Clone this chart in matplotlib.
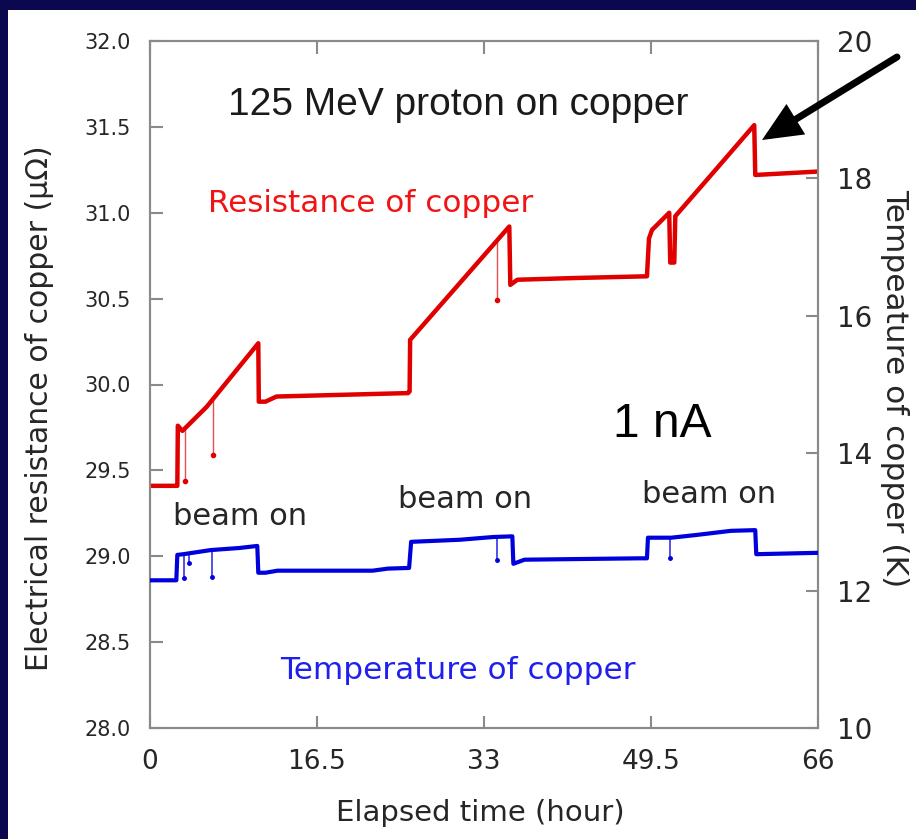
import matplotlib
matplotlib.use("Agg")
import matplotlib.pyplot as plt
from matplotlib.patches import FancyArrowPatch, Rectangle

# Resistance of copper (micro-ohm) against elapsed time (hour)
red_t = [0.0, 2.6, 2.7, 2.75, 3.2, 5.6, 10.7, 10.75, 11.4, 12.5, 25.5, 25.65,
         25.7, 35.5, 35.6, 36.3, 42.0, 49.1, 49.3, 49.6, 51.3, 51.4, 51.8,
         51.9, 55.0, 59.7, 59.8, 66.0]
red_r = [29.41, 29.41, 29.41, 29.76, 29.73, 29.87, 30.24, 29.90, 29.90, 29.93,
         29.95, 29.96, 30.26, 30.92, 30.58, 30.61, 30.62, 30.63, 30.85, 30.90,
         31.00, 30.71, 30.71, 30.98, 31.19, 31.51, 31.22, 31.24]

# short dropouts in the resistance readout
red_spike_t = [3.5, 6.2, 34.3]
red_spike_top = [29.74, 29.91, 30.84]
red_spike_low = [29.44, 29.59, 30.49]

# Temperature of copper (K)
blue_t = [0.0, 2.6, 2.7, 3.3, 6.0, 8.8, 10.6, 10.7, 11.4, 12.6, 22.0, 23.5,
          25.6, 25.8, 30.6, 33.9, 35.8, 35.9, 37.0, 48.4, 49.1, 49.2, 51.5,
          54.0, 57.4, 59.8, 59.9, 66.0]
blue_T = [12.15, 12.15, 12.52, 12.53, 12.59, 12.62, 12.65, 12.26, 12.26, 12.29,
          12.29, 12.32, 12.33, 12.71, 12.74, 12.78, 12.79, 12.39, 12.45, 12.47,
          12.47, 12.77, 12.77, 12.81, 12.87, 12.88, 12.53, 12.55]

blue_spike_t = [3.4, 3.9, 6.1, 34.3, 51.4]
blue_spike_top = [12.52, 12.53, 12.57, 12.78, 12.77]
blue_spike_low = [12.18, 12.40, 12.20, 12.45, 12.47]

x_ticks = [0, 16.5, 33, 49.5, 66]
x_ticklabels = ["0", "16.5", "33", "49.5", "66"]
r_ticks = [28.0, 28.5, 29.0, 29.5, 30.0, 30.5, 31.0, 31.5, 32.0]
t_ticks = [10, 12, 14, 16, 18, 20]

RED = "#e00000"
BLUE = "#0000dc"
GRAY = "#8a8a8a"
INK = "#262626"
NAVY = "#0b0850"

plt.rcParams["font.family"] = "DejaVu Sans"

W, H = 916, 839
fig = plt.figure(figsize=(W / 100, H / 100), dpi=100)
fig.patch.set_facecolor("white")

# axes box in pixels: x 150..818, y 41..728
ax = fig.add_axes([150 / W, 1 - 728 / H, 668 / W, 687 / H])
ax2 = ax.twinx()

ax.plot(red_t, red_r, color=RED, lw=3.2, solid_joinstyle="round", zorder=3)
ax.vlines(red_spike_t, red_spike_low, red_spike_top, color=RED, lw=1.0,
          alpha=0.7, zorder=3)
ax.plot(red_spike_t, red_spike_low, "o", color=RED, ms=3, zorder=3)

ax2.plot(blue_t, blue_T, color=BLUE, lw=3.0, solid_joinstyle="round", zorder=3)
ax2.vlines(blue_spike_t, blue_spike_low, blue_spike_top, color=BLUE, lw=1.2,
           alpha=0.8, zorder=3)
ax2.plot(blue_spike_t, blue_spike_low, "o", color=BLUE, ms=2.5, zorder=3)

ax.set_xlim(0, 66)
ax.set_ylim(28.0, 32.0)
ax2.set_ylim(10, 20)

ax.set_xticks(x_ticks)
ax.set_xticklabels(x_ticklabels)
ax.set_yticks(r_ticks)
ax.set_yticklabels([f"{v:.1f}" for v in r_ticks])
ax2.set_yticks(t_ticks)
ax2.set_yticklabels([str(v) for v in t_ticks])

for a in (ax, ax2):
    for s in a.spines.values():
        s.set_color(GRAY)
        s.set_linewidth(1.5)

ax.tick_params(axis="x", direction="in", length=9, width=1.5, color=GRAY,
               top=True, labelsize=19, pad=15, labelcolor=INK)
ax.tick_params(axis="y", direction="in", length=9, width=1.5, color=GRAY,
               right=False, labelsize=15, pad=14, labelcolor=INK)
ax2.tick_params(axis="y", direction="in", length=9, width=1.5, color=GRAY,
                labelsize=20, pad=14, labelcolor=INK)

# axis titles
fig.text(40 / W, 1 - 408 / H, "Electrical resistance of copper (μΩ)",
         rotation=90, ha="center", va="center", fontsize=21.5, color=INK)
fig.text(895 / W, 1 - 388 / H, "Tempeature of copper (K)",
         rotation=270, ha="center", va="center", fontsize=22.5, color=INK)
fig.text(480 / W, 1 - 821 / H, "Elapsed time (hour)",
         ha="center", va="baseline", fontsize=21, color=INK)

# in-plot labels
ax.text(7.71, 31.569, "125 MeV proton on copper", family="Liberation Sans",
        fontsize=28, color="#1a1a1a", va="baseline")
ax.text(5.73, 31.004, "Resistance of copper", fontsize=22.4,
        color="#f01414", va="baseline")
ax.text(12.85, 28.285, "Temperature of copper", fontsize=22.4,
        color="#2020ee", va="baseline")
for bx, by in [(2.27, 29.18), (24.5, 29.28), (48.6, 29.31)]:
    ax.text(bx, by, "beam on", fontsize=22, color=INK, va="baseline")
ax.text(45.75, 29.694, "1 nA", family="Liberation Sans", fontsize=34.5,
        color="black", va="baseline")

# arrow pointing at the last drop
fig.add_artist(FancyArrowPatch(
    (897 / W, 1 - 57 / H), (762 / W, 1 - 140 / H),
    transform=fig.transFigure, arrowstyle="-|>,head_length=1.0,head_width=0.45",
    mutation_scale=20, lw=5, color="black", shrinkA=0, shrinkB=0,
    joinstyle="miter", zorder=10))

# frame band along the top and left edges
fig.add_artist(Rectangle((0, 1 - 10 / H), 1, 10 / H, transform=fig.transFigure,
                         facecolor=NAVY, edgecolor="none", zorder=20))
fig.add_artist(Rectangle((0, 0), 8 / W, 1, transform=fig.transFigure,
                         facecolor=NAVY, edgecolor="none", zorder=20))

fig.savefig("out.png", dpi=100, facecolor="white")
